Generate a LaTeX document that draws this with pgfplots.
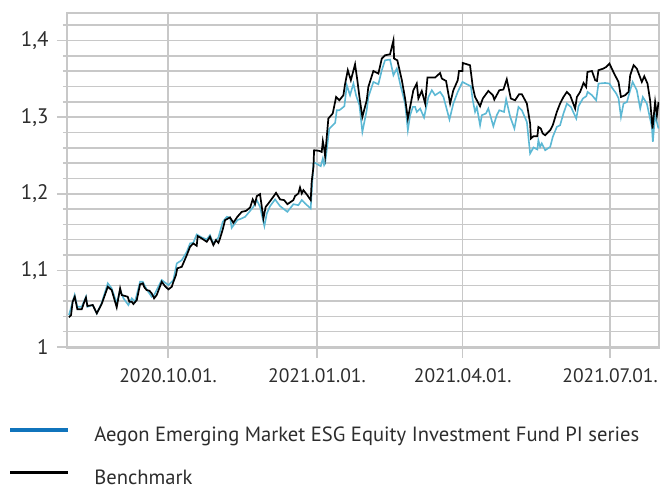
\documentclass[border=0pt]{standalone}
\usepackage{fontspec}
\setmainfont{PT Sans}
\usepackage{pgfplots}
\usepackage{pgfplotstable}
\pgfplotsset{compat=1.18}
\definecolor{gridgray}{RGB}{200,200,200}
\definecolor{fundblue}{RGB}{92,184,212}
\definecolor{legblue}{RGB}{16,116,188}
\definecolor{txt}{RGB}{45,45,45}

% day = days since 2020-10-01, value = indexed price
\pgfplotstableread{
day value
-61.2 1.0417
-57.7 1.0678
-56.0 1.0525
-53.3 1.0525
-50.7 1.0656
-49.8 1.0525
-46.5 1.0548
-44.0 1.0439
-41.0 1.0574
-37.2 1.0831
-34.8 1.0765
-31.7 1.0570
-29.6 1.0743
-27.5 1.0635
-24.5 1.0548
-22.4 1.0635
-20.4 1.0591
-17.3 1.0851
-15.6 1.0851
-13.2 1.0752
-10.1 1.0656
-8.6 1.0678
-3.9 1.0874
0.2 1.0808
3.3 1.0874
5.4 1.1091
8.5 1.1134
11.6 1.1243
13.6 1.1352
15.6 1.1360
17.7 1.1469
20.8 1.1430
23.9 1.1404
25.9 1.1460
28.0 1.1352
31.1 1.1430
33.8 1.1634
36.3 1.1699
38.3 1.1691
39.3 1.1555
42.8 1.1656
45.5 1.1678
47.6 1.1699
50.7 1.1777
52.7 1.1829
54.8 1.1917
56.8 1.1829
59.5 1.1578
61.0 1.1743
63.0 1.1838
66.1 1.1926
69.2 1.1838
73.7 1.1764
77.4 1.1864
80.5 1.1851
82.6 1.1917
84.6 1.1874
88.1 1.1808
89.8 1.2395
90.8 1.2403
94.3 1.2360
95.6 1.2460
96.4 1.2373
97.0 1.2395
99.6 1.2851
103.2 1.2924
104.2 1.3090
105.8 1.3090
108.9 1.3142
110.4 1.3416
112.4 1.3286
114.5 1.3438
116.1 1.3286
118.2 1.3155
120.0 1.2807
122.7 1.3090
123.7 1.3263
126.8 1.3459
129.9 1.3429
132.0 1.3612
134.0 1.3742
137.1 1.3751
139.2 1.3546
141.3 1.3634
143.3 1.3438
146.4 1.3177
148.1 1.2829
149.5 1.3025
151.2 1.3133
152.6 1.3133
153.6 1.3068
155.7 1.3112
158.1 1.2995
160.8 1.3263
162.9 1.3351
164.9 1.3286
168.0 1.3329
170.1 1.3263
173.8 1.2969
176.2 1.3177
178.9 1.3329
181.8 1.3459
187.0 1.3403
188.2 1.3220
189.6 1.3068
190.7 1.3133
192.7 1.2894
193.8 1.3025
196.3 1.3047
197.8 1.3112
200.9 1.2881
203.0 1.3025
204.6 1.3090
207.5 1.3068
208.8 1.3233
211.3 1.3003
213.9 1.2851
216.4 1.3133
218.5 1.3090
221.6 1.2937
223.6 1.2525
225.7 1.2604
228.1 1.2578
228.7 1.2699
229.8 1.2612
230.8 1.2656
232.9 1.2568
236.0 1.2612
237.6 1.2742
240.1 1.2872
242.1 1.2894
244.2 1.3047
246.3 1.3177
248.8 1.3133
252.1 1.2982
253.5 1.3142
256.2 1.3243
258.3 1.3273
259.1 1.3329
261.8 1.3286
264.4 1.3220
265.8 1.3438
270.0 1.3446
272.6 1.3438
274.1 1.3386
276.8 1.3308
278.2 1.3246
279.7 1.3003
281.3 1.3177
283.4 1.3198
285.4 1.3351
286.9 1.3459
289.5 1.3351
291.6 1.3112
293.2 1.3263
295.7 1.3177
298.8 1.2872
299.4 1.2677
300.8 1.3025
302.9 1.2851
}\fund

\pgfplotstableread{
day value
-61.2 1.0387
-59.9 1.0417
-58.9 1.0591
-57.6 1.0656
-56.0 1.0492
-53.3 1.0492
-51.7 1.0591
-50.7 1.0643
-49.8 1.0535
-46.5 1.0548
-44.0 1.0439
-41.0 1.0561
-37.2 1.0786
-34.8 1.0743
-31.7 1.0518
-29.6 1.0765
-28.6 1.0678
-24.9 1.0656
-23.9 1.0591
-22.4 1.0591
-21.4 1.0561
-19.3 1.0613
-17.3 1.0817
-15.6 1.0831
-14.6 1.0778
-13.2 1.0743
-11.5 1.0734
-10.1 1.0700
-8.6 1.0635
-7.0 1.0678
-3.9 1.0851
-1.9 1.0795
0.2 1.0752
2.3 1.0786
3.3 1.0851
4.9 1.0939
5.7 1.1026
8.5 1.1047
11.6 1.1200
13.6 1.1308
15.6 1.1352
17.7 1.1321
18.3 1.1447
20.8 1.1417
23.9 1.1373
25.9 1.1438
28.0 1.1330
29.6 1.1395
31.1 1.1360
32.1 1.1417
33.8 1.1535
35.2 1.1656
38.3 1.1691
40.3 1.1621
42.8 1.1699
45.5 1.1764
48.2 1.1777
50.7 1.1821
52.3 1.1926
53.7 1.1864
54.8 1.1969
56.8 1.1995
58.9 1.1678
60.3 1.1829
62.0 1.1874
65.0 1.1960
66.7 1.2012
69.2 1.1926
71.7 1.1917
73.7 1.1864
75.8 1.1894
77.4 1.1917
78.4 1.1969
80.5 1.2004
81.5 1.2082
82.6 1.2004
83.6 1.2047
86.0 1.1982
88.1 1.1917
88.7 1.2155
89.8 1.2351
90.2 1.2568
93.5 1.2559
94.9 1.2546
95.6 1.2686
96.4 1.2591
97.0 1.2490
99.0 1.2982
101.7 1.3047
103.8 1.3263
105.8 1.3220
108.3 1.3286
109.3 1.3429
111.0 1.3612
112.9 1.3481
115.5 1.3690
116.9 1.3481
118.2 1.3263
120.0 1.3003
122.7 1.3220
123.7 1.3394
126.8 1.3602
129.9 1.3568
132.0 1.3764
134.0 1.3807
137.1 1.3820
139.2 1.4003
139.6 1.3764
141.6 1.3742
144.4 1.3481
146.4 1.3243
148.1 1.2982
149.5 1.3133
151.5 1.3351
153.6 1.3438
154.6 1.3243
156.7 1.3342
158.8 1.3177
160.2 1.3516
164.9 1.3516
168.0 1.3576
169.1 1.3503
171.7 1.3472
174.2 1.3177
176.2 1.3351
178.9 1.3481
179.7 1.3602
181.8 1.3602
182.0 1.3707
186.5 1.3677
188.2 1.3394
189.6 1.3263
192.7 1.3142
194.4 1.3243
197.8 1.3342
200.6 1.3286
201.5 1.3229
204.6 1.3351
207.1 1.3360
209.2 1.3494
211.7 1.3243
214.3 1.3220
216.8 1.3299
218.5 1.3299
221.6 1.3177
223.6 1.2917
224.1 1.2721
225.7 1.2751
228.1 1.2751
228.7 1.2872
230.2 1.2851
231.4 1.2786
232.9 1.2764
236.0 1.2829
237.6 1.2894
240.1 1.3068
242.1 1.3177
244.2 1.3263
246.3 1.3329
248.3 1.3286
251.4 1.3112
252.5 1.3263
254.5 1.3329
256.6 1.3446
258.2 1.3394
259.0 1.3589
261.8 1.3602
263.8 1.3481
264.9 1.3472
265.8 1.3612
268.9 1.3634
270.6 1.3655
272.6 1.3699
275.5 1.3568
278.2 1.3459
279.7 1.3263
282.3 1.3286
284.4 1.3329
285.4 1.3546
287.5 1.3677
289.5 1.3634
292.6 1.3459
294.1 1.3533
296.1 1.3438
297.7 1.3220
299.2 1.2851
300.8 1.3198
301.9 1.3025
302.9 1.3198
}\bench

\begin{document}
\fontsize{19bp}{23bp}\selectfont
\begin{tikzpicture}
\useasboundingbox (0,0) rectangle (660bp,489bp);
\begin{axis}[
  at={(67bp,141bp)}, anchor=south west,
  scale only axis, width=592bp, height=335bp,
  xmin=-62.4, xmax=303.2, ymin=0.9987, ymax=1.4359,
  xtick={0,92,182,273},
  xticklabels={2020.10.01.,2021.01.01.,2021.04.01.,2021.07.01.},
  ytick={1,1.1,1.2,1.3,1.4},
  yticklabels={1,{1,1},{1,2},{1,3},{1,4}},
  minor ytick={1.02,1.04,1.06,1.08,1.12,1.14,1.16,1.18,1.22,1.24,1.26,1.28,1.32,1.34,1.36,1.38,1.42},
  xmajorgrids, ymajorgrids, yminorgrids,
  grid style={gridgray, line width=1.5bp},
  minor grid style={gridgray, line width=1.5bp},
  axis line style={gridgray, line width=1.8bp},
  tick align=outside, xtick pos=bottom, ytick pos=left,
  major tick length=10bp, minor tick length=4bp,
  tick style={gridgray, line width=1.5bp},
  xticklabel style={font=\fontsize{19.5bp}{23bp}\selectfont, text=txt, yshift=-4bp},
  yticklabel style={font=\fontsize{21bp}{25bp}\selectfont, text=txt, xshift=-2bp},
  legend style={at={(0,0)}, anchor=north west, xshift=-59bp, yshift=-79bp,
    draw=none, fill=none, inner sep=0pt, row sep=25bp,
    nodes={inner sep=0pt, text=txt, font=\fontsize{20.6bp}{24bp}\selectfont}},
  legend cell align=left,
  legend image code/.code={\draw[#1, line width=3.8bp] (0bp,6bp) -- (58bp,6bp); \path (84bp,0bp);},
]
\addplot[fundblue, line width=1.6bp, forget plot] table[x=day, y=value] {\fund};
\addplot[black, line width=1.7bp, forget plot] table[x=day, y=value] {\bench};
\addlegendimage{legblue}
\addlegendentry{Aegon Emerging Market ESG Equity Investment Fund PI series}
\addlegendimage{black}
\addlegendentry{Benchmark}
\end{axis}
\end{tikzpicture}
\end{document}
